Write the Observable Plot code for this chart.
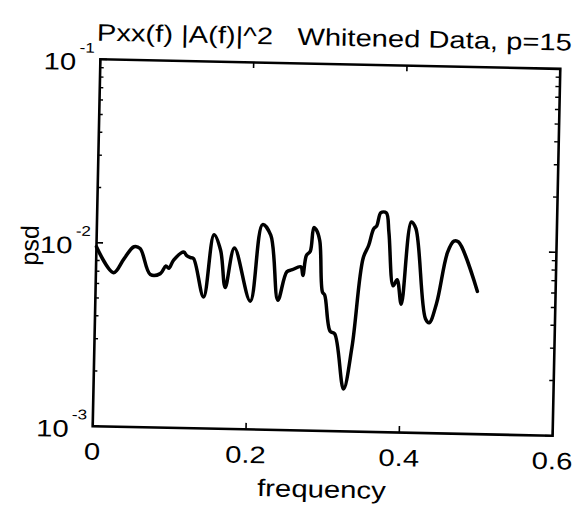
<!DOCTYPE html>
<html>
<head>
<meta charset="utf-8">
<script src="https://cdn.jsdelivr.net/npm/d3@7"></script>
<script src="https://cdn.jsdelivr.net/npm/@observablehq/plot@0.6"></script>
<style>
  html, body { margin: 0; padding: 0; background: #fff; }
  #wrap { width: 580px; height: 508px; transform: rotate(1.2deg); transform-origin: 326px 247px; }
</style>
</head>
<body>
<div id="wrap"></div>
<script>
const freq = [0.000, 0.023, 0.036, 0.049, 0.057, 0.071, 0.084, 0.091, 0.095, 0.101, 0.114, 0.118, 0.123, 0.127, 0.141, 0.153, 0.162, 0.169, 0.180, 0.202, 0.216, 0.227, 0.238, 0.249, 0.256, 0.267, 0.270, 0.274, 0.279, 0.283, 0.286, 0.291, 0.296, 0.299, 0.307, 0.313, 0.326, 0.336, 0.348, 0.355, 0.361, 0.365, 0.370, 0.377, 0.381, 0.388, 0.393, 0.399, 0.410, 0.416, 0.431, 0.436, 0.445, 0.458, 0.466, 0.472, 0.498];
const psd = [0.0095, 0.0069, 0.0082, 0.0096, 0.0094, 0.0068, 0.0069, 0.0076, 0.0074, 0.0082, 0.0091, 0.0087, 0.0085, 0.0084, 0.0052, 0.0114, 0.0094, 0.0059, 0.0097, 0.0050, 0.0131, 0.0115, 0.0051, 0.0073, 0.0075, 0.0078, 0.0070, 0.0090, 0.0095, 0.0128, 0.0125, 0.0109, 0.0057, 0.0055, 0.0035, 0.0034, 0.0017, 0.0029, 0.0088, 0.0104, 0.0128, 0.0133, 0.0157, 0.0157, 0.0123, 0.0063, 0.0068, 0.0050, 0.0141, 0.0130, 0.0042, 0.0040, 0.0051, 0.0097, 0.0112, 0.0111, 0.0060];
const xTicks = [0, 0.2, 0.4, 0.6];
const xTickLabels = ["0", "0.2", "0.4", "0.6"];
const yTicks = [1e-3, 1e-2, 1e-1];
const yTickBase = ["10", "10", "10"];
const yTickExp = ["-3", "-2", "-1"];
const yMinor = [2e-3,3e-3,4e-3,5e-3,6e-3,7e-3,8e-3,9e-3,2e-2,3e-2,4e-2,5e-2,6e-2,7e-2,8e-2,9e-2];
const titleText = "Pxx(f) |A(f)|^2   Whitened Data, p=15";
const xLabel = "frequency";
const yLabel = "psd";

const data = freq.map((f, i) => ({f, p: psd[i]}));

const W = 580, H = 508, mL = 96, mR = 24, mT = 63.5, mB = 77.5;
const fw = W - mL - mR, fh = H - mT - mB;
const font = "Liberation Sans, Arial, Helvetica, sans-serif";

const svg = Plot.plot({
  width: W, height: H,
  marginLeft: mL, marginRight: mR, marginTop: mT, marginBottom: mB,
  style: {fontFamily: font, background: "#fff", color: "#000", overflow: "visible"},
  x: {domain: [0, 0.6], axis: null},
  y: {type: "log", domain: [1e-3, 1e-1], axis: null},
  marks: [
    Plot.line(data, {x: "f", y: "p", stroke: "#000", strokeWidth: 3.5, curve: "catmull-rom"}),
    Plot.frame({stroke: "#000", strokeWidth: 2.6}),
    // x ticks (inward, bottom and top)
    Plot.tickX(xTicks, {x: d => d, insetTop: fh - 6, stroke: "#000", strokeWidth: 1.6}),
    Plot.tickX(xTicks, {x: d => d, insetBottom: fh - 6, stroke: "#000", strokeWidth: 1.6}),
    // y major ticks
    Plot.tickY(yTicks, {y: d => d, insetRight: fw - 7, stroke: "#000", strokeWidth: 1.6}),
    Plot.tickY(yTicks, {y: d => d, insetLeft: fw - 7, stroke: "#000", strokeWidth: 1.6}),
    // y minor ticks
    Plot.tickY(yMinor, {y: d => d, insetRight: fw - 4, stroke: "#000", strokeWidth: 1.4}),
    Plot.tickY(yMinor, {y: d => d, insetLeft: fw - 4, stroke: "#000", strokeWidth: 1.4}),
    // x tick labels
    Plot.text(xTicks, {x: d => d, text: (d, i) => xTickLabels[i], frameAnchor: "bottom", dy: 25.8, fontSize: 24, lineAnchor: "middle", textAnchor: "middle", fill: "#000", className: "stretch"}),
    // y tick labels: 10 with superscript exponent
    Plot.text(yTicks, {y: d => d, text: (d, i) => yTickBase[i], frameAnchor: "left", textAnchor: "end", dx: -24, dy: 3.5, fontSize: 24, lineAnchor: "middle", fill: "#000", className: "stretch"}),
    Plot.text(yTicks, {y: d => d, text: (d, i) => yTickExp[i], frameAnchor: "left", textAnchor: "start", dx: -21, dy: -11, fontSize: 14, lineAnchor: "middle", fill: "#000", className: "stretch"}),
    // axis labels
    Plot.text([xLabel], {text: d => d, frameAnchor: "bottom", dy: 58.8, fontSize: 24, lineAnchor: "middle", textAnchor: "middle", fill: "#000", className: "stretch"}),
    Plot.text([yLabel], {text: d => d, frameAnchor: "left", textAnchor: "middle", dx: -66, dy: 4, rotate: -90, fontSize: 25, lineAnchor: "middle", fill: "#000"}),
    // title
    Plot.text([titleText], {text: d => d, frameAnchor: "top-left", textAnchor: "start", dx: -4, dy: -18.5 - 7.7, fontSize: 24, lineAnchor: "middle", fill: "#000", className: "ttl"})
  ]
});
document.getElementById("wrap").appendChild(svg);

// MATLAB-printed text is wider than the metric font: stretch horizontally
svg.querySelectorAll("g.stretch text").forEach(t => {
  const len = t.getComputedTextLength();
  t.setAttribute("textLength", (len * 1.22).toFixed(1));
  t.setAttribute("lengthAdjust", "spacingAndGlyphs");
});
svg.querySelectorAll("g.ttl text").forEach(t => {
  t.setAttribute("textLength", "475");
  t.setAttribute("lengthAdjust", "spacingAndGlyphs");
});
</script>
</body>
</html>
